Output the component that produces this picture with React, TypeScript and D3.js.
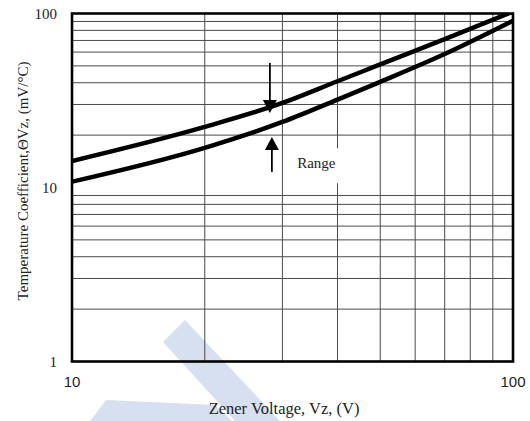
import React from "react";
import * as d3 from "d3";

const voltageUpper = [10, 20, 30, 40, 50, 70, 100];
const coefUpper = [14.2, 22.3, 30.6, 40.8, 51, 71.2, 102.5];
const voltageLower = [10, 20, 30, 40, 50, 70, 100];
const coefLower = [10.8, 16.9, 23.8, 32.0, 40.5, 58.5, 90.9];

const xGrid = [20, 30, 40, 50, 60, 70, 80, 90];
const yGrid = [2, 3, 4, 5, 6, 7, 8, 9, 20, 30, 40, 50, 60, 70, 80, 90];
const xTicks = ["10", "100"];
const yTicks = ["1", "10", "100"];

const arrowV = 28.1;
const arrowDown = [52, 26.8];
const arrowUp = [12.3, 19.5];
const rangeLabel = { v: 32.4, c: 12.9, text: "Range" };

const xTitle = "Zener Voltage, Vz, (V)";
const yTitle = "Temperature Coefficient,\u0398Vz,  (mV/\u00B0C)";

const W = 530;
const H = 421;
const L = 72, R = 513, T = 13.5, B = 361.5;

export default function App() {
  const x = d3.scaleLog().domain([10, 100]).range([L, R]);
  const y = d3.scaleLog().domain([1, 100]).range([B, T]);
  const line = d3
    .line<[number, number]>()
    .x((d) => x(d[0]))
    .y((d) => y(d[1]))
    .curve(d3.curveMonotoneX);
  const up = voltageUpper.map((v, i) => [v, coefUpper[i]] as [number, number]);
  const lo = voltageLower.map((v, i) => [v, coefLower[i]] as [number, number]);
  const serif = "'Liberation Serif', 'Times New Roman', serif";
  const sans = "'Liberation Sans', Arial, sans-serif";
  const ax = x(arrowV);
  const rx = x(rangeLabel.v);
  const ry = y(rangeLabel.c);
  return (
    <svg
      width={W}
      height={H}
      style={{ position: "absolute", left: 0, top: 0, display: "block", background: "#fff" }}
    >
      <defs>
        <clipPath id="plot">
          <rect x={L} y={T} width={R - L} height={B - T} />
        </clipPath>
      </defs>
      {/* watermark */}
      <polygon points="163,342 185,320 280,421 235,421" fill="#d6e0f1" />
      <polygon points="106,400 215,405 232,421 90,421" fill="#d6e0f1" />
      {/* grid */}
      {xGrid.map((v) => (
        <line key={"x" + v} x1={x(v)} x2={x(v)} y1={T} y2={B} stroke="#4a4a4a" strokeWidth={1} />
      ))}
      {yGrid.map((v) => (
        <line key={"y" + v} x1={L} x2={R} y1={y(v)} y2={y(v)} stroke="#4a4a4a" strokeWidth={1} />
      ))}
      {/* range label box */}
      <rect x={rx - 8} y={ry - 20} width={56} height={35} fill="#fff" />
      <text x={rx} y={ry} fontFamily={serif} fontSize={15} fill="#222">
        {rangeLabel.text}
      </text>
      {/* curves */}
      <g clipPath="url(#plot)">
        <path d={line(up) || ""} fill="none" stroke="#000" strokeWidth={4.5} />
        <path d={line(lo) || ""} fill="none" stroke="#000" strokeWidth={4.5} />
      </g>
      {/* arrows */}
      <line x1={ax} x2={ax} y1={y(arrowDown[0])} y2={y(arrowDown[1]) - 10} stroke="#000" strokeWidth={1.8} />
      <polygon
        points={`${ax - 7},${y(arrowDown[1]) - 13} ${ax + 7},${y(arrowDown[1]) - 13} ${ax},${y(arrowDown[1])}`}
        fill="#000"
      />
      <line x1={ax + 2} x2={ax + 2} y1={y(arrowUp[0])} y2={y(arrowUp[1]) + 10} stroke="#000" strokeWidth={1.8} />
      <polygon
        points={`${ax + 2 - 7},${y(arrowUp[1]) + 13} ${ax + 2 + 7},${y(arrowUp[1]) + 13} ${ax + 2},${y(arrowUp[1])}`}
        fill="#000"
      />
      {/* frame */}
      <rect x={L} y={T} width={R - L} height={B - T} fill="none" stroke="#000" strokeWidth={2.6} />
      {/* y ticks */}
      {yTicks.map((t) => (
        <text
          key={t}
          x={57}
          y={y(+t)}
          dy="0.35em"
          textAnchor="end"
          fontFamily={serif}
          fontSize={15}
          fill="#222"
        >
          {t}
        </text>
      ))}
      {/* x ticks */}
      {xTicks.map((t) => (
        <text key={t} x={x(+t)} y={387} textAnchor="middle" fontFamily={sans} fontSize={15} fill="#222">
          {t}
        </text>
      ))}
      <text x={284} y={414} textAnchor="middle" fontFamily={serif} fontSize={16.5} fill="#222">
        {xTitle}
      </text>
      <text
        transform={`translate(28,181) rotate(-90)`}
        textAnchor="middle"
        fontFamily={serif}
        fontSize={15}
        fill="#222"
      >
        {yTitle}
      </text>
    </svg>
  );
}
